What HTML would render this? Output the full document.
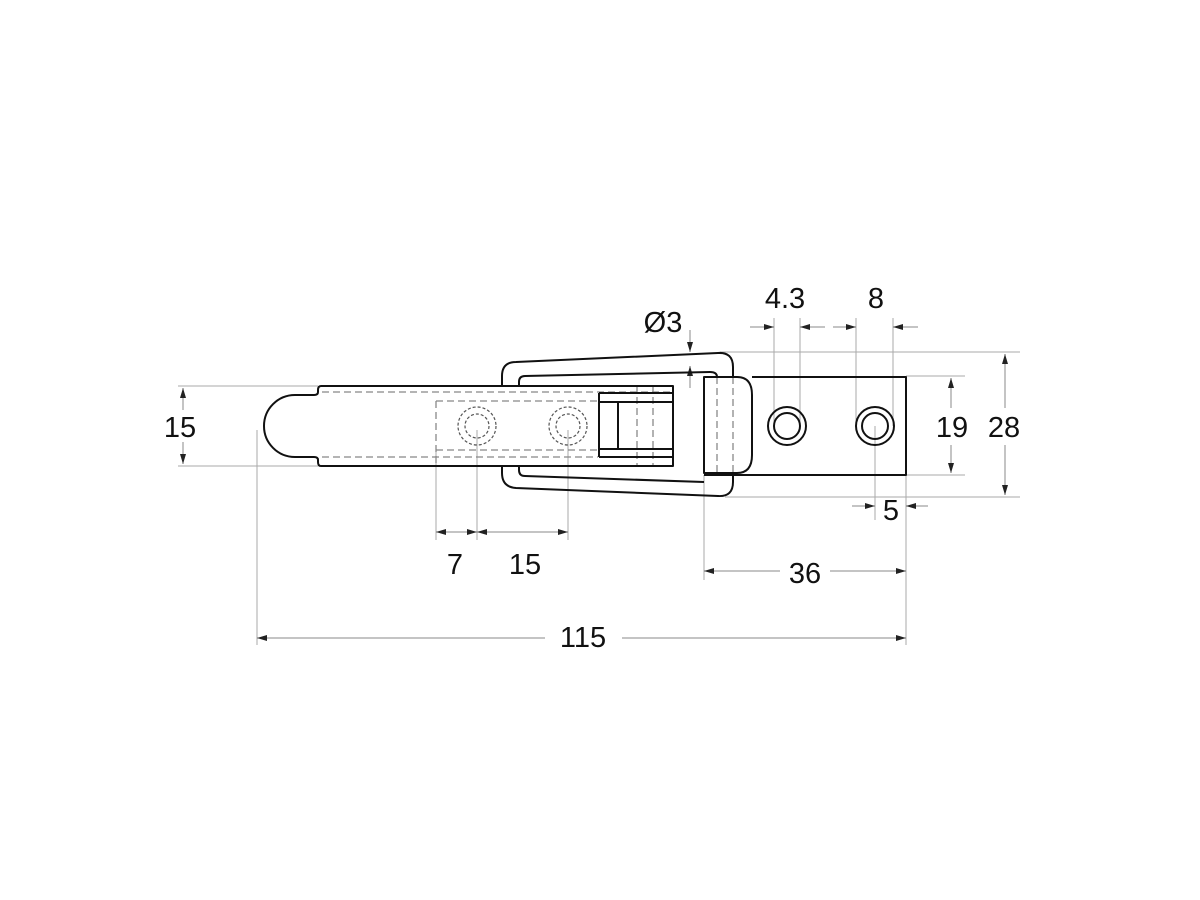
<!DOCTYPE html>
<html><head><meta charset="utf-8"><style>html,body{margin:0;padding:0;background:#fff}svg{display:block}text{font-family:"Liberation Sans",sans-serif;font-size:29px;fill:#111;text-anchor:middle}</style></head>
<body>
<svg width="1200" height="900" viewBox="0 0 1200 900" xmlns="http://www.w3.org/2000/svg">
<defs>
<marker id="a" viewBox="0 0 10 6" refX="10" refY="3" markerWidth="10" markerHeight="6" orient="auto-start-reverse" markerUnits="userSpaceOnUse"><path d="M0,0 L10,3 L0,6z" fill="#222"/></marker>
</defs>
<g stroke="#aaa" stroke-width="1" fill="none">
<line x1="178" y1="386" x2="318" y2="386"/><line x1="178" y1="466" x2="318" y2="466"/>
<line x1="257" y1="430" x2="257" y2="645"/>
<line x1="906" y1="475" x2="906" y2="645"/>
<line x1="704" y1="475" x2="704" y2="580"/>
<line x1="436" y1="450" x2="436" y2="540"/><line x1="477" y1="430" x2="477" y2="540"/><line x1="568" y1="430" x2="568" y2="540"/>
<line x1="720" y1="352" x2="1020" y2="352"/><line x1="725" y1="497" x2="1020" y2="497"/>
<line x1="906" y1="376" x2="965" y2="376"/><line x1="906" y1="475" x2="965" y2="475"/>
<line x1="774" y1="318" x2="774" y2="426"/><line x1="800" y1="318" x2="800" y2="426"/>
<line x1="856" y1="318" x2="856" y2="426"/><line x1="893" y1="318" x2="893" y2="426"/>
<line x1="875" y1="426" x2="875" y2="520"/><line x1="906" y1="490" x2="906" y2="520"/>
</g>
<g stroke="#888" stroke-width="1" fill="none">
<line x1="183" y1="388" x2="183" y2="410" marker-start="url(#a)"/><line x1="183" y1="442" x2="183" y2="464" marker-end="url(#a)"/>
<line x1="951" y1="378" x2="951" y2="408" marker-start="url(#a)"/><line x1="951" y1="445" x2="951" y2="473" marker-end="url(#a)"/>
<line x1="1005" y1="354" x2="1005" y2="408" marker-start="url(#a)"/><line x1="1005" y1="445" x2="1005" y2="495" marker-end="url(#a)"/>
<line x1="750" y1="327" x2="774" y2="327" marker-end="url(#a)"/><line x1="800" y1="327" x2="825" y2="327" marker-start="url(#a)"/>
<line x1="833" y1="327" x2="856" y2="327" marker-end="url(#a)"/><line x1="893" y1="327" x2="918" y2="327" marker-start="url(#a)"/>
<line x1="690" y1="330" x2="690" y2="352" marker-end="url(#a)"/><line x1="690" y1="366" x2="690" y2="388" marker-start="url(#a)"/>
<line x1="852" y1="506" x2="875" y2="506" marker-end="url(#a)"/><line x1="906" y1="506" x2="928" y2="506" marker-start="url(#a)"/>
<line x1="436" y1="532" x2="477" y2="532" marker-start="url(#a)" marker-end="url(#a)"/>
<line x1="477" y1="532" x2="568" y2="532" marker-start="url(#a)" marker-end="url(#a)"/>
<line x1="704" y1="571" x2="780" y2="571" marker-start="url(#a)"/><line x1="830" y1="571" x2="906" y2="571" marker-end="url(#a)"/>
<line x1="257" y1="638" x2="545" y2="638" marker-start="url(#a)"/><line x1="622" y1="638" x2="906" y2="638" marker-end="url(#a)"/>
</g>
<g stroke="#888" stroke-width="1.3" fill="none" stroke-dasharray="7,4">
<line x1="322" y1="392" x2="673" y2="392"/><line x1="322" y1="457" x2="598" y2="457"/>
<line x1="436" y1="401" x2="598" y2="401"/><line x1="436" y1="450" x2="598" y2="450"/>
<line x1="436" y1="401" x2="436" y2="465"/>
<line x1="637" y1="386" x2="637" y2="466"/><line x1="653" y1="386" x2="653" y2="466"/>
<line x1="717" y1="377" x2="717" y2="473"/><line x1="733" y1="377" x2="733" y2="473"/>
</g>
<g stroke="#555" stroke-width="1.2" fill="none" stroke-dasharray="3,2">
<circle cx="477" cy="426" r="19"/><circle cx="477" cy="426" r="12"/>
<circle cx="568" cy="426" r="19"/><circle cx="568" cy="426" r="12"/>
</g>
<g stroke="#111" stroke-width="2" fill="none" stroke-linejoin="round">
<path d="M673,386 L321,386 Q318,386 318,390 L318,392 Q318,395 314,395 L295,395 A31,31 0 0 0 295,457 L314,457 Q318,457 318,460 L318,462 Q318,466 321,466 L673,466 Z"/>
<path d="M599,393 H673 M599,402 H673 M599,449 H673 M599,457 H673 M599,393 V457 M618,402 V449"/>
<path d="M502,386 L502,376 Q502,362 516,362 L718,353 Q733,352 733,367 L733,377"/>
<path d="M502,466 L502,473 Q502,487 516,488 L718,496 Q733,497 733,482 L733,473"/>
<path d="M519,386 L519,382 Q519,376 525,376 L710,372 Q717,372 717,377"/>
<path d="M519,466 L519,470 Q519,476 525,476 L704,482"/>
<path d="M704,377 L737,377 Q752,377 752,395 L752,455 Q752,473 737,473 L704,473 Z"/>
<path d="M752,377 H906 V475 H704"/>
<circle cx="787" cy="426" r="19"/><circle cx="787" cy="426" r="13"/>
<circle cx="875" cy="426" r="19"/><circle cx="875" cy="426" r="13"/>
</g>
<text x="180" y="437">15</text>
<text x="952" y="437">19</text>
<text x="1004" y="437">28</text>
<text x="785" y="308">4.3</text>
<text x="876" y="308">8</text>
<text x="663" y="332">Ø3</text>
<text x="891" y="520">5</text>
<text x="455" y="574">7</text>
<text x="525" y="574">15</text>
<text x="805" y="583">36</text>
<text x="583" y="647">115</text>
</svg>
</body></html>
